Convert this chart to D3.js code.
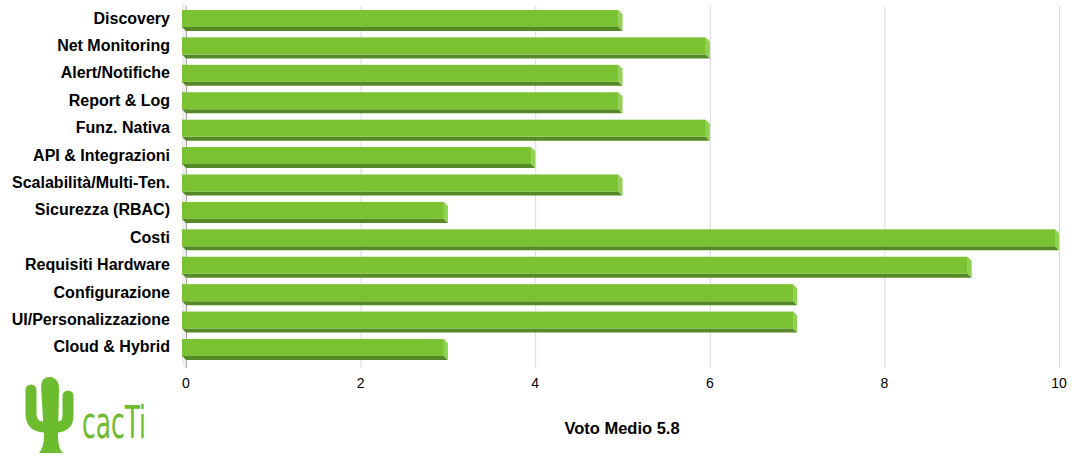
<!DOCTYPE html>
<html>
<head>
<meta charset="utf-8">
<script src="https://cdn.jsdelivr.net/npm/d3@7"></script>
<style>
  body { margin: 0; background: #fff; }
  text { font-family: "Liberation Sans", Arial, sans-serif; }
</style>
</head>
<body>
<svg id="chart" width="1077" height="459"></svg>
<script>
// categories and their scores
var categories = ["Discovery", "Net Monitoring", "Alert/Notifiche", "Report & Log", "Funz. Nativa",
  "API & Integrazioni", "Scalabilità/Multi-Ten.", "Sicurezza (RBAC)", "Costi", "Requisiti Hardware",
  "Configurazione", "UI/Personalizzazione", "Cloud & Hybrid"];
var scores = [5, 6, 5, 5, 6, 4, 5, 3, 10, 9, 7, 7, 3];
var tickValues = [0, 2, 4, 6, 8, 10];
var axisTitle = "Voto Medio 5.8";

var svg = d3.select("#chart");
var depth = 4;

var x = d3.scaleLinear().domain([0, 10]).range([186, 1059]);
var y = d3.scaleBand().domain(categories).range([4.3, 360.7]).paddingInner(0).paddingOuter(0);

// left wall (3d)
svg.append("path")
  .attr("d", "M182,2 L186,6 L186,368 L182,364 Z")
  .attr("fill", "#eeeeee");

// grid
svg.append("g").selectAll("line")
  .data(tickValues)
  .join("line")
  .attr("x1", d => x(d) + 0.5).attr("x2", d => x(d) + 0.5)
  .attr("y1", 6).attr("y2", 368)
  .attr("stroke", d => d === 0 ? "#aaaaaa" : "#d9d9d9")
  .attr("stroke-width", 1);

// bars
var bars = svg.append("g").selectAll("g")
  .data(categories)
  .join("g");

function barGeom(d, i) {
  var x0 = x(0) - depth, x1 = x(scores[i]) - depth;
  var y0 = y(d) + 5.7, y1 = y0 + 17;
  return {x0: x0, x1: x1, y0: y0, y1: y1};
}

bars.append("path")
  .attr("d", (d, i) => {
    var g = barGeom(d, i);
    return "M" + g.x0 + "," + g.y1 + " L" + g.x1 + "," + g.y1 + " L" + (g.x1 + depth) + "," + (g.y1 + depth) +
      " L" + (g.x0 + depth) + "," + (g.y1 + depth) + " Z";
  })
  .attr("fill", "#558826");

bars.append("path")
  .attr("d", (d, i) => {
    var g = barGeom(d, i);
    return "M" + g.x1 + "," + g.y0 + " L" + (g.x1 + depth) + "," + (g.y0 + depth) + " L" + (g.x1 + depth) + "," + (g.y1 + depth) +
      " L" + g.x1 + "," + g.y1 + " Z";
  })
  .attr("fill", "#8fd150");

bars.append("rect")
  .attr("x", (d, i) => barGeom(d, i).x0)
  .attr("y", (d, i) => barGeom(d, i).y0)
  .attr("width", (d, i) => barGeom(d, i).x1 - barGeom(d, i).x0)
  .attr("height", 17)
  .attr("fill", "#7ac232");

// category labels
svg.append("g").selectAll("text")
  .data(categories)
  .join("text")
  .attr("x", 170)
  .attr("y", d => y(d) + y.bandwidth() / 2)
  .attr("text-anchor", "end")
  .attr("dominant-baseline", "central")
  .attr("font-size", 16)
  .attr("font-weight", "bold")
  .attr("fill", "#000")
  .text(d => d);

// x tick labels
svg.append("g").selectAll("text")
  .data(tickValues)
  .join("text")
  .attr("x", d => x(d))
  .attr("y", 388)
  .attr("text-anchor", "middle")
  .attr("font-size", 14)
  .attr("fill", "#000")
  .text(d => d);

svg.append("text")
  .attr("x", 622)
  .attr("y", 434)
  .attr("text-anchor", "middle")
  .attr("font-size", 16.5)
  .attr("font-weight", "bold")
  .text(axisTitle);

// cacti logo
var logo = svg.append("g");
logo.append("path")
  .attr("d", "M31,390 L31,414 Q31,427 45,427")
  .attr("fill", "none").attr("stroke", "#6dbb2e").attr("stroke-width", 11).attr("stroke-linecap", "round");
logo.append("path")
  .attr("d", "M68,396 L68,416 Q68,427 56,427")
  .attr("fill", "none").attr("stroke", "#6dbb2e").attr("stroke-width", 11).attr("stroke-linecap", "round");
logo.append("path")
  .attr("d", "M41,386 Q42,376 51,377 Q60,379 59,392 L58,436 Q58,449 63,453 L39,453 Q44,447 44,436 Z")
  .attr("fill", "#6dbb2e");
logo.append("text")
  .attr("x", 82)
  .attr("y", 438)
  .attr("font-size", 44)
  .attr("textLength", 64)
  .attr("lengthAdjust", "spacingAndGlyphs")
  .attr("fill", "#6dbb2e")
  .style("font-family", "'DejaVu Sans Condensed', 'Liberation Sans Narrow', sans-serif")
  .text("cacTi");
</script>
</body>
</html>
